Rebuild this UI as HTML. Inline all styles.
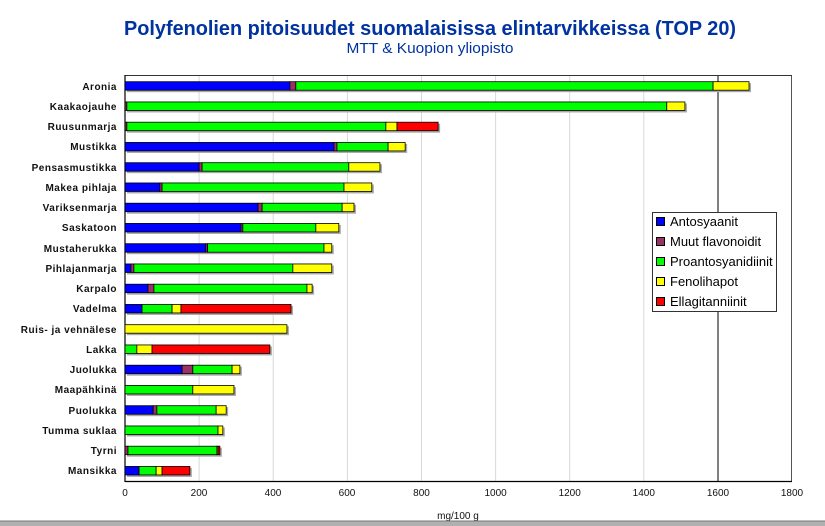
<!DOCTYPE html>
<html><head><meta charset="utf-8"><style>
html,body{margin:0;padding:0;background:#fff;width:825px;height:526px;overflow:hidden}
svg{display:block;font-family:"Liberation Sans",Arial,sans-serif}
</style></head><body>
<svg id="s" width="825" height="526" viewBox="0 0 825 526">
<rect width="825" height="526" fill="#fff"/>
<text x="430" y="35" text-anchor="middle" font-size="20" font-weight="bold" fill="#0033a0" textLength="612" lengthAdjust="spacingAndGlyphs">Polyfenolien pitoisuudet suomalaisissa elintarvikkeissa (TOP 20)</text>
<text x="430" y="53" text-anchor="middle" font-size="15" fill="#0033a0" textLength="167" lengthAdjust="spacingAndGlyphs">MTT &amp; Kuopion yliopisto</text>
<g stroke="#d8d8d8" stroke-width="1">
<line x1="199.1" y1="75" x2="199.1" y2="481"/><line x1="273.2" y1="75" x2="273.2" y2="481"/><line x1="347.4" y1="75" x2="347.4" y2="481"/><line x1="421.5" y1="75" x2="421.5" y2="481"/><line x1="495.6" y1="75" x2="495.6" y2="481"/><line x1="569.7" y1="75" x2="569.7" y2="481"/><line x1="643.8" y1="75" x2="643.8" y2="481"/>
</g>
<line x1="718" y1="75" x2="718" y2="481" stroke="#000" stroke-width="1"/>
<line x1="791.5" y1="75" x2="791.5" y2="481" stroke="#555" stroke-width="1"/>
<line x1="125" y1="75.5" x2="792" y2="75.5" stroke="#333" stroke-width="1"/>
<line x1="125" y1="75" x2="125" y2="482" stroke="#000" stroke-width="1.2"/>
<line x1="125" y1="481.5" x2="792" y2="481.5" stroke="#000" stroke-width="1.2"/>
<g id="bars"></g>
<g font-size="10" font-weight="bold" fill="#111" text-anchor="end" letter-spacing="0.5">
<text x="117" y="90">Aronia</text>
<text x="117" y="110">Kaakaojauhe</text>
<text x="117" y="130">Ruusunmarja</text>
<text x="117" y="150">Mustikka</text>
<text x="117" y="171">Pensasmustikka</text>
<text x="117" y="191">Makea pihlaja</text>
<text x="117" y="211">Variksenmarja</text>
<text x="117" y="231">Saskatoon</text>
<text x="117" y="252">Mustaherukka</text>
<text x="117" y="272">Pihlajanmarja</text>
<text x="117" y="292">Karpalo</text>
<text x="117" y="312">Vadelma</text>
<text x="117" y="333">Ruis- ja vehnälese</text>
<text x="117" y="353">Lakka</text>
<text x="117" y="373">Juolukka</text>
<text x="117" y="393">Maapähkinä</text>
<text x="117" y="414">Puolukka</text>
<text x="117" y="434">Tumma suklaa</text>
<text x="117" y="454">Tyrni</text>
<text x="117" y="474">Mansikka</text>
</g>
<g font-size="10" fill="#111" text-anchor="middle">
<text x="125" y="496">0</text><text x="199" y="496">200</text><text x="273" y="496">400</text><text x="347" y="496">600</text><text x="421.5" y="496">800</text><text x="495.6" y="496">1000</text><text x="569.7" y="496">1200</text><text x="643.8" y="496">1400</text><text x="718" y="496">1600</text><text x="792" y="496">1800</text>
<text x="458" y="519">mg/100 g</text>
</g>
<rect x="0" y="521" width="825" height="5" fill="#b0b0b0"/>
<line x1="0" y1="521" x2="825" y2="521" stroke="#777"/>
<rect x="652.5" y="212.5" width="124" height="99" fill="#fff" stroke="#333"/>
<g stroke="#000" stroke-width="1">
<rect x="656.5" y="217.5" width="8" height="8" fill="#0000ff"/>
<rect x="656.5" y="237.5" width="8" height="8" fill="#993366"/>
<rect x="656.5" y="257.5" width="8" height="8" fill="#00ff00"/>
<rect x="656.5" y="277.5" width="8" height="8" fill="#ffff00"/>
<rect x="656.5" y="297.5" width="8" height="8" fill="#ff0000"/>
</g>
<g font-size="13" fill="#000">
<text x="670" y="226">Antosyaanit</text>
<text x="670" y="246">Muut flavonoidit</text>
<text x="670" y="266">Proantosyanidiinit</text>
<text x="670" y="286">Fenolihapot</text>
<text x="670" y="306">Ellagitanniinit</text>
</g>
</svg>
<script>
var d=[[445,16,1126,97,0],[0,5,1457,49,0],[0,5,699,30,111],[564,8,138,46,0],[200,8,396,84,0],[94,6,491,75,0],[359,11,216,32,0],[313,5,197,62,0],[218,5,314,21,0],[16,8,429,105,0],[62,16,413,14,0],[46,0,81,24,297],[0,0,0,437,0],[0,0,32,41,318],[154,29,106,21,0],[0,0,183,111,0],[76,10,160,27,0],[0,0,251,13,0],[0,8,240,3,5],[38,0,46,16,75]];
var c=["#0000ff","#993366","#00ff00","#ffff00","#ff0000"],k=0.37056,h="";
d.forEach(function(r,i){var y=81.7+i*20.25,x=125,t=r.reduce(function(a,b){return a+b},0);
h+='<rect x="127" y="'+(y+1.5)+'" width="'+(t*k)+'" height="9" fill="#a8a8a8"/>';
r.forEach(function(v,j){if(v>0){h+='<rect x="'+x+'" y="'+y+'" width="'+(v*k)+'" height="8.5" fill="'+c[j]+'" stroke="#000" stroke-width="0.8"/>';x+=v*k;}});});
document.getElementById("bars").innerHTML=h;
</script>
</body></html>
